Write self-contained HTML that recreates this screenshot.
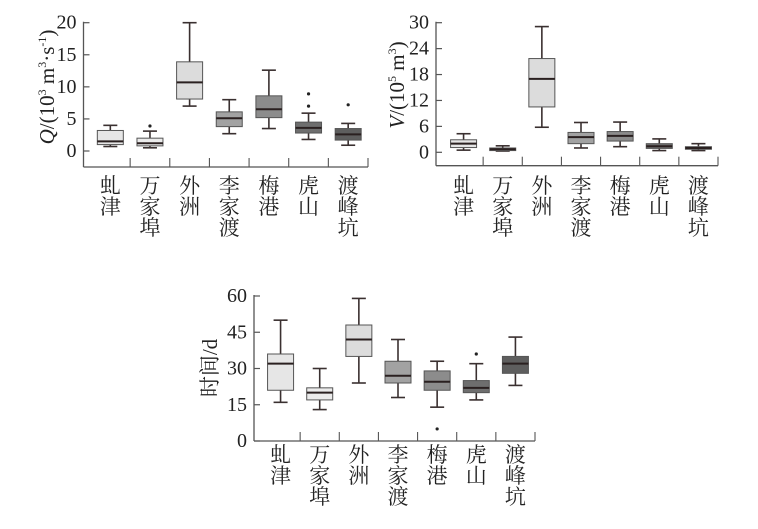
<!DOCTYPE html>
<html><head><meta charset="utf-8">
<style>
body{margin:0;background:#fff;width:758px;height:529px;overflow:hidden}
svg{display:block}
text{font-family:"Liberation Serif","Noto Serif CJK SC",serif;fill:#222}
.cat{font-family:"Liberation Serif","Noto Serif CJK SC",serif;font-size:21px}
.tick{font-size:20px}
</style></head><body>
<svg id="chart" width="758" height="529" viewBox="0 0 758 529" xmlns="http://www.w3.org/2000/svg"></svg>
<script>
const categories=["虬津","万家埠","外洲","李家渡","梅港","虎山","渡峰坑"];
const fills=["#e6e6e6","#ebebeb","#dcdcdc","#a2a2a2","#8c8c8c","#6e6e6e","#5e5e5e"];
// [min, q1, median, q3, max]
const qStats=[[0.7,1.0,1.5,3.2,4],[0.5,0.8,1.2,2.0,3.1],[7,8.1,10.7,13.9,20],[2.7,3.8,5.1,6.1,8],[3.5,5.2,6.5,8.6,12.6],[1.8,2.8,3.6,4.5,5.9],[0.9,1.7,2.6,3.5,4.3]];
const qOutliers=[[],[3.9],[],[],[],[7,8.9],[7.2]];
const qTicks=[0,5,10,15,20];
const vStats=[[0.5,1.1,2.0,2.9,4.3],[0.3,0.4,0.7,1.0,1.5],[5.8,10.5,17,21.7,29.1],[1.0,2.0,3.5,4.6,6.9],[1.3,2.6,3.8,4.8,7.0],[0.4,0.9,1.4,2.0,3.1],[0.4,0.7,1.0,1.3,2.0]];
const vOutliers=[[],[],[],[],[],[],[]];
const vTicks=[0,6,12,18,24,30];
const tStats=[[16,21,32,36,50],[13,17,20,22,30],[24,35,42,48,59],[18,24,27,33,42],[14,21,24.5,29,33],[17,20,22,25,32],[23,28,32,35,43]];
const tOutliers=[[],[],[],[],[5],[36],[]];
const tTicks=[0,15,30,45,60];

const svg=document.getElementById('chart');
const NS="http://www.w3.org/2000/svg";
function mk(tag,attrs,parent){const e=document.createElementNS(NS,tag);for(const k in attrs)e.setAttribute(k,attrs[k]);(parent||svg).appendChild(e);return e;}

function panel(p){
  const g=mk('g',{});
  
  
  const y=v=>p.y0-(v-p.vmin)/(p.vmax-p.vmin)*(p.y0-p.y1);
  const step=(p.xEnd-p.xStart)/categories.length;
  const cx=i=>p.xStart+step*(i+0.5);
  const ya=mk('line',{x1:p.ax,y1:y(p.vmax)-1,x2:p.ax,y2:p.axisY,stroke:'#555','stroke-width':1.3},g);
  
  
  const xa=mk('line',{x1:p.ax,y1:p.axisY,x2:p.xEnd,y2:p.axisY,stroke:'#555','stroke-width':1.3},g);
  
  
  p.ticks.forEach(t=>{
    mk('line',{x1:p.ax,y1:y(t),x2:p.ax+6,y2:y(t),stroke:'#555','stroke-width':1.2},g);
    const tx=mk('text',{x:p.ax-7,y:y(t)+6,'text-anchor':'end',class:'tick'},g);
    tx.textContent=t;
    
    
  });
  for(let i=1;i<=categories.length;i++){
    const xx=p.xStart+step*i;
    mk('line',{x1:xx,y1:p.axisY,x2:xx,y2:p.axisY-9,stroke:'#555','stroke-width':1.1},g);
  }
  categories.forEach((c,i)=>{
    const s=p.stats[i];const x=cx(i);const w=26;
    const bg=mk('g',{},g);
    
    
    mk('line',{x1:x,y1:y(s[0]),x2:x,y2:y(s[4]),stroke:'#3a3030','stroke-width':1.6},bg);
    mk('line',{x1:x-7,y1:y(s[0]),x2:x+7,y2:y(s[0]),stroke:'#3a3030','stroke-width':1.6},bg);
    mk('line',{x1:x-7,y1:y(s[4]),x2:x+7,y2:y(s[4]),stroke:'#3a3030','stroke-width':1.6},bg);
    mk('rect',{x:x-w/2,y:y(s[3]),width:w,height:y(s[1])-y(s[3]),fill:fills[i],stroke:'#555','stroke-width':1},bg);
    mk('line',{x1:x-w/2,y1:y(s[2]),x2:x+w/2,y2:y(s[2]),stroke:'#2a2020','stroke-width':2},bg);
    p.outliers[i].forEach(o=>{mk('circle',{cx:x,cy:y(o),r:1.6,fill:'#222'},bg);});
    const lab=mk('text',{x:x,y:p.labY,'text-anchor':'middle',class:'cat'},g);
    
    
    [...c].forEach((ch,k)=>{const ts=mk('tspan',{x:x,y:p.labY+k*21},lab);ts.textContent=ch;});
  });
  const yl=mk('text',{transform:`translate(${p.ylx},${p.yly}) rotate(-90)`,'text-anchor':'middle','font-size':'21px'},g);
  
  
  yl.innerHTML=p.ylabel;
}
panel({name:'q-panel',stats:qStats,outliers:qOutliers,ticks:qTicks,vmin:0,vmax:20,y0:151,y1:22.7,ax:83.5,axisY:167,xStart:90.5,xEnd:368,labY:193,ylx:54,yly:87,
  ylabel:'<tspan font-style="italic">Q</tspan>/(10<tspan font-size="12" dy="-8">3</tspan><tspan dy="8"> m</tspan><tspan font-size="12" dy="-8">3</tspan><tspan dy="8">·s</tspan><tspan font-size="12" dy="-8">-1</tspan><tspan dy="8">)</tspan>'});
panel({name:'v-panel',stats:vStats,outliers:vOutliers,ticks:vTicks,vmin:0,vmax:30,y0:152.3,y1:22.7,ax:436,axisY:165.7,xStart:444,xEnd:718,labY:193,ylx:404,yly:85,
  ylabel:'<tspan font-style="italic">V</tspan>/(10<tspan font-size="12" dy="-8">5</tspan><tspan dy="8"> m</tspan><tspan font-size="12" dy="-8">3</tspan><tspan dy="8">)</tspan>'});
panel({name:'time-panel',stats:tStats,outliers:tOutliers,ticks:tTicks,vmin:0,vmax:60,y0:441,y1:296,ax:254,axisY:441,xStart:261,xEnd:535,labY:462,ylx:217,yly:368,
  ylabel:'时间/d'});
</script>
</body></html>
